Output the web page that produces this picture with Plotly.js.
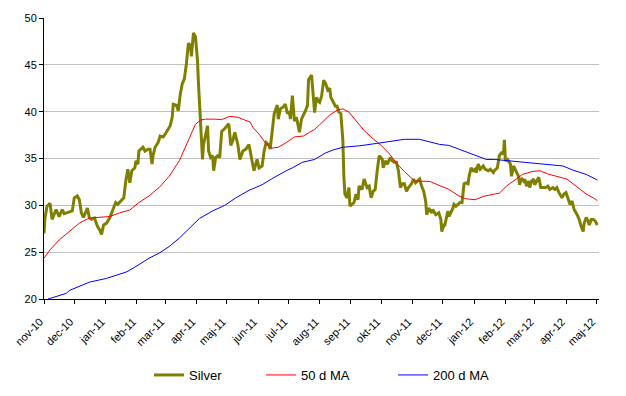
<!DOCTYPE html>
<html>
<head>
<meta charset="utf-8">
<script src="https://cdn.plot.ly/plotly-3.0.1.min.js"></script>
<style>html,body{margin:0;padding:0;background:#fff;}#chart{width:626px;height:396px;}</style>
</head>
<body>
<div id="chart"></div>
<script>
// Silver price (USD/oz)
const silverDates = [
"2010-11-01","2010-11-02","2010-11-04","2010-11-07","2010-11-09","2010-11-13","2010-11-16","2010-11-19","2010-11-21","2010-11-26","2010-11-29",
"2010-12-01","2010-12-04","2010-12-06","2010-12-08","2010-12-10","2010-12-14","2010-12-16","2010-12-18","2010-12-21","2010-12-24","2010-12-26","2010-12-28","2010-12-30",
"2011-01-02","2011-01-05","2011-01-08","2011-01-11","2011-01-13","2011-01-17","2011-01-19","2011-01-21","2011-01-23","2011-01-25","2011-01-27","2011-01-30","2011-01-31",
"2011-02-02","2011-02-03","2011-02-07","2011-02-09","2011-02-12","2011-02-14","2011-02-16","2011-02-17","2011-02-19","2011-02-22","2011-02-24","2011-02-27",
"2011-03-01","2011-03-03","2011-03-06","2011-03-08","2011-03-09","2011-03-12","2011-03-14","2011-03-16","2011-03-18","2011-03-20","2011-03-22","2011-03-24","2011-03-26","2011-03-27","2011-03-29","2011-03-31",
"2011-04-02","2011-04-03","2011-04-05","2011-04-07","2011-04-08","2011-04-10","2011-04-12","2011-04-13","2011-04-15","2011-04-17","2011-04-18","2011-04-20","2011-04-22","2011-04-24","2011-04-26","2011-04-29",
"2011-05-01","2011-05-03","2011-05-05","2011-05-07","2011-05-09","2011-05-12","2011-05-14","2011-05-17","2011-05-20","2011-05-23","2011-05-26","2011-05-28","2011-05-31",
"2011-06-02","2011-06-05","2011-06-07","2011-06-09","2011-06-12","2011-06-13","2011-06-15","2011-06-17","2011-06-20","2011-06-21","2011-06-23","2011-06-26","2011-06-28","2011-06-30",
"2011-07-02","2011-07-03","2011-07-05","2011-07-07","2011-07-09","2011-07-10","2011-07-12","2011-07-14","2011-07-16","2011-07-18","2011-07-20","2011-07-21","2011-07-24","2011-07-25","2011-07-27","2011-07-29","2011-07-30",
"2011-08-01","2011-08-03","2011-08-05","2011-08-07","2011-08-09","2011-08-11","2011-08-12","2011-08-15","2011-08-17","2011-08-18","2011-08-20","2011-08-22","2011-08-24","2011-08-25","2011-08-26","2011-08-28","2011-08-30","2011-08-31",
"2011-09-02","2011-09-04","2011-09-06","2011-09-08","2011-09-09","2011-09-12","2011-09-14","2011-09-17","2011-09-19","2011-09-21","2011-09-23","2011-09-25","2011-09-27","2011-09-29",
"2011-10-02","2011-10-03","2011-10-05","2011-10-07","2011-10-10","2011-10-12","2011-10-14","2011-10-16","2011-10-18","2011-10-20","2011-10-22","2011-10-24","2011-10-26","2011-10-28","2011-10-31",
"2011-11-02","2011-11-04","2011-11-06","2011-11-08","2011-11-10","2011-11-12","2011-11-14","2011-11-15","2011-11-17","2011-11-20","2011-11-21","2011-11-24","2011-11-27","2011-11-29","2011-11-30",
"2011-12-02","2011-12-03","2011-12-06","2011-12-07","2011-12-09","2011-12-11","2011-12-12","2011-12-14","2011-12-16","2011-12-18","2011-12-20","2011-12-21","2011-12-22","2011-12-24","2011-12-26","2011-12-27","2011-12-29","2011-12-31",
"2012-01-02","2012-01-03","2012-01-05","2012-01-07","2012-01-08","2012-01-10","2012-01-12","2012-01-15","2012-01-17","2012-01-20","2012-01-21","2012-01-24","2012-01-26","2012-01-28","2012-01-30","2012-01-31",
"2012-02-01","2012-02-03","2012-02-04","2012-02-06","2012-02-07","2012-02-09","2012-02-10","2012-02-12","2012-02-14","2012-02-15","2012-02-17","2012-02-19","2012-02-20","2012-02-22","2012-02-24","2012-02-25","2012-02-27","2012-02-29",
"2012-03-01","2012-03-03","2012-03-05","2012-03-07","2012-03-09","2012-03-12","2012-03-14","2012-03-16","2012-03-19","2012-03-21","2012-03-23","2012-03-25","2012-03-28","2012-03-30",
"2012-04-01","2012-04-03","2012-04-05","2012-04-07","2012-04-09","2012-04-12","2012-04-14","2012-04-16","2012-04-18","2012-04-19","2012-04-21","2012-04-23","2012-04-24","2012-04-26","2012-04-28","2012-04-30","2012-05-02"
];
const silverValues = [
27.0,28.65,29.9,30.2,28.5,29.55,28.8,29.55,29.1,29.3,29.4,
30.8,31.0,30.6,29.2,28.7,29.7,28.65,28.5,28.65,27.75,27.4,26.9,27.9,
28.1,28.65,29.4,30.3,30.1,30.6,30.8,32.6,33.85,32.4,33.7,34.0,34.75,
34.4,35.8,36.2,35.8,36.0,36.0,34.4,35.3,36.2,36.7,37.4,37.3,
37.6,38.0,38.5,39.4,40.8,40.7,40.1,41.9,43.0,43.5,45.1,47.3,47.1,45.9,48.4,48.0,
45.5,43.0,39.4,34.9,36.5,37.6,38.5,35.8,35.1,35.3,33.7,35.1,35.3,35.1,37.9,38.2,
38.5,38.7,36.4,36.9,37.8,36.5,34.9,35.8,36.0,36.5,34.75,33.7,34.9,
34.0,34.2,35.8,36.7,36.4,36.0,38.2,39.8,40.7,39.2,40.3,40.5,40.8,39.8,
40.0,39.2,41.7,39.0,39.4,38.7,37.8,39.2,39.6,40.1,40.7,43.4,43.9,42.5,39.9,41.55,41.2,
41.0,41.7,43.35,43.0,42.3,42.5,41.55,41.0,40.5,40.7,39.95,39.8,36.9,33.0,31.2,30.8,31.9,29.9,
30.1,30.3,31.2,30.6,32.05,31.7,32.8,31.9,32.05,30.8,31.5,31.7,33.7,35.3,
34.9,34.0,34.75,34.4,35.1,34.75,34.6,34.6,33.7,31.9,32.3,32.3,31.5,31.9,32.3,
32.8,32.4,32.6,32.8,32.05,31.5,30.45,29.0,29.7,29.2,29.55,29.0,29.2,28.5,27.2,
27.9,27.9,29.4,28.8,29.2,29.7,30.1,29.9,30.1,30.3,30.3,31.2,32.3,32.4,32.3,33.1,34.0,33.7,
33.85,33.5,34.4,33.85,34.0,34.2,33.85,33.7,33.85,33.5,33.7,34.0,35.3,35.6,35.5,37.0,
34.75,34.9,34.75,34.4,33.1,34.2,34.0,33.5,33.1,32.2,32.9,32.6,32.8,32.05,32.6,31.9,32.6,32.8,
32.2,32.6,33.0,31.9,31.9,31.9,32.05,31.7,31.9,31.7,31.9,31.35,30.8,31.2,
31.35,30.8,30.1,30.45,29.55,29.0,28.5,27.75,27.2,28.1,28.7,28.3,27.9,28.5,28.5,28.3,27.9
];

// 50-day moving average
const ma50Dates = [
"2010-11-01","2010-11-07","2010-11-16","2010-11-26","2010-12-06","2010-12-16","2010-12-26","2011-01-05","2011-01-15","2011-01-25",
"2011-02-03","2011-02-13","2011-02-23","2011-03-05","2011-03-15","2011-03-25","2011-03-31","2011-04-05","2011-04-10","2011-04-19","2011-04-26",
"2011-05-04","2011-05-12","2011-05-19","2011-05-24","2011-05-27","2011-06-02","2011-06-09","2011-06-14","2011-06-21","2011-06-29",
"2011-07-07","2011-07-16","2011-07-22","2011-07-27","2011-08-01","2011-08-11","2011-08-19","2011-08-24","2011-08-30",
"2011-09-06","2011-09-14","2011-09-23","2011-10-01","2011-10-09","2011-10-17","2011-10-24","2011-11-03","2011-11-18",
"2011-12-01","2011-12-07","2011-12-17","2011-12-24","2012-01-02","2012-01-10","2012-01-21","2012-01-26",
"2012-02-02","2012-02-10","2012-02-18","2012-02-27","2012-03-06","2012-03-14","2012-03-23","2012-04-02","2012-04-11","2012-04-21","2012-04-28","2012-05-02"
];
const ma50Values = [
24.35,25.25,26.3,27.2,28.1,28.65,28.7,28.8,29.2,29.5,
30.3,31.0,31.9,33.1,34.75,37.1,38.65,39.1,39.2,39.2,39.15,
39.5,39.4,39.1,38.9,38.3,37.6,36.55,36.1,36.2,36.7,
37.3,37.4,37.8,38.1,38.6,39.65,40.2,40.3,39.95,
39.05,38.0,37.1,36.4,35.5,34.4,33.6,32.6,32.55,
32.0,31.7,31.0,30.7,30.6,30.95,31.2,31.3,
32.05,32.7,33.3,33.6,33.7,33.35,33.1,32.8,32.05,31.2,30.8,30.5
];

// 200-day moving average
const ma200Dates = [
"2010-11-05","2010-11-23","2010-11-26","2010-12-09","2010-12-16","2011-01-02","2011-01-22","2011-01-30","2011-02-13","2011-02-23",
"2011-03-05","2011-03-15","2011-03-25","2011-04-04","2011-04-17","2011-04-29","2011-05-10","2011-05-23","2011-06-05","2011-06-14",
"2011-06-29","2011-07-05","2011-07-15","2011-07-27","2011-08-07","2011-08-14","2011-08-24","2011-09-09","2011-09-26","2011-10-13",
"2011-10-24","2011-11-08","2011-11-21","2011-11-28","2011-12-07","2011-12-24","2012-01-07","2012-01-13","2012-01-21","2012-02-05",
"2012-02-25","2012-03-16","2012-03-29","2012-04-08","2012-04-21","2012-05-02"
];
const ma200Values = [
20.0,20.6,20.9,21.5,21.8,22.2,22.9,23.4,24.35,24.9,
25.6,26.5,27.5,28.6,29.4,30.0,30.8,31.6,32.2,32.8,
33.7,34.0,34.6,34.9,35.6,35.9,36.2,36.35,36.6,36.9,
37.05,37.05,36.7,36.5,36.4,35.7,35.1,34.9,34.9,34.75,
34.6,34.4,34.2,33.75,33.3,32.7
];

// Axis ticks
const monthTicks = ["2010-11-01","2010-12-01","2011-01-01","2011-02-01","2011-03-01","2011-04-01","2011-05-01","2011-06-01","2011-07-01","2011-08-01","2011-09-01","2011-10-01","2011-11-01","2011-12-01","2012-01-01","2012-02-01","2012-03-01","2012-04-01","2012-05-01"];
const monthLabels = ["nov-10","dec-10","jan-11","feb-11","mar-11","apr-11","maj-11","jun-11","jul-11","aug-11","sep-11","okt-11","nov-11","dec-11","jan-12","feb-12","mar-12","apr-12","maj-12"];
const seriesNames = ["Silver","50 d MA","200 d MA"];

const FONT = "Liberation Sans, Arial, sans-serif";
const traces = [
  {x: silverDates, y: silverValues, name: seriesNames[0], type: "scatter", mode: "lines",
   line: {color: "#808000", width: 3}, legend: "legend"},
  {x: ma50Dates, y: ma50Values, name: seriesNames[1], type: "scatter", mode: "lines",
   line: {color: "#ff0000", width: 1}, legend: "legend2"},
  {x: ma200Dates, y: ma200Values, name: seriesNames[2], type: "scatter", mode: "lines",
   line: {color: "#0000ff", width: 1}, legend: "legend3"}
];

function legendAt(xpx) {
  return {xref: "container", yref: "container", x: xpx / 626, xanchor: "left",
          y: 1 - 375 / 396, yanchor: "middle", orientation: "h",
          bgcolor: "rgba(0,0,0,0)", borderwidth: 0,
          font: {family: FONT, size: 13, color: "#000000"}};
}

const layout = {
  width: 626, height: 396,
  margin: {l: 44, r: 27, t: 18, b: 97},
  paper_bgcolor: "#ffffff", plot_bgcolor: "#ffffff",
  font: {family: FONT, size: 11, color: "#000000"},
  showlegend: true,
  legend: legendAt(149),
  legend2: legendAt(261),
  legend3: legendAt(393),
  xaxis: {
    type: "date", range: ["2010-11-01", "2012-05-03 16:00"],
    tickmode: "array", tickvals: monthTicks, ticktext: monthLabels,
    tickangle: -45, ticks: "outside", ticklen: 4, tickcolor: "#000000",
    ticklabelstandoff: 7, ticklabelshift: -4,
    showline: true, linecolor: "#000000", linewidth: 1, showgrid: false, zeroline: false,
    automargin: false,
    tickfont: {family: FONT, size: 11, color: "#000000"}
  },
  yaxis: {
    range: [20, 50], tickmode: "linear", tick0: 20, dtick: 5,
    ticks: "outside", ticklen: 4, tickcolor: "#000000",
    showline: true, linecolor: "#000000", linewidth: 1,
    showgrid: true, gridcolor: "#c0c0c0", gridwidth: 1, zeroline: false,
    automargin: false,
    tickfont: {family: FONT, size: 11, color: "#000000"}
  }
};

Plotly.newPlot("chart", traces, layout, {staticPlot: true, displayModeBar: false});
</script>
</body>
</html>
